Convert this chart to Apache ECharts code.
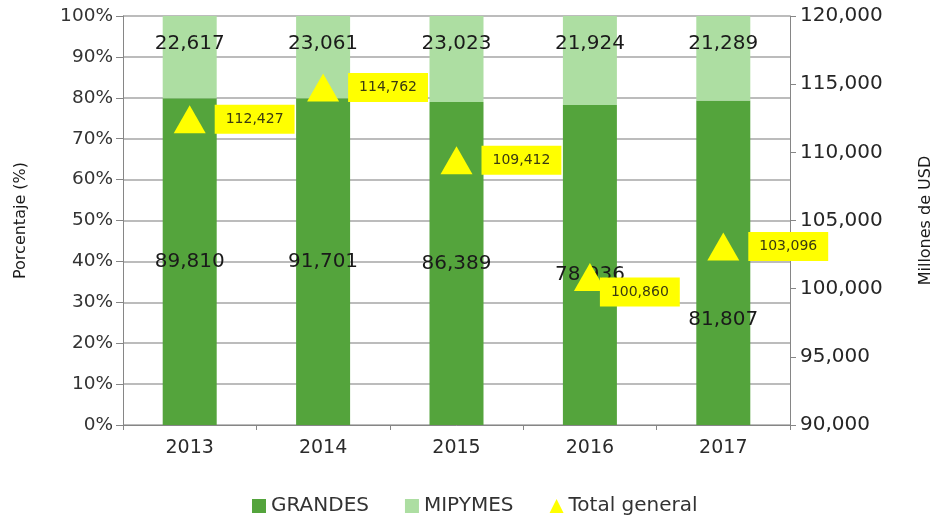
<!DOCTYPE html>
<html>
<head>
<meta charset="utf-8">
<script src="https://cdn.jsdelivr.net/npm/echarts@6/dist/echarts.min.js"></script>
<style>html,body{margin:0;padding:0;background:#fff}#c{width:935px;height:519px}</style>
</head>
<body>
<div id="c"></div>
<script>
var years = ['2013', '2014', '2015', '2016', '2017'];
var grandes = [89810, 91701, 86389, 78936, 81807];
var mipymes = [22617, 23061, 23023, 21924, 21289];
var totalGeneral = [112427, 114762, 109412, 100860, 103096];
var grandesLabelOffsets = [[0,0],[0,0],[0,0],[0,10],[0,57]];
var totalLabelOffsets = [[0,0],[0,0],[0,0],[-15,15],[0,0]];

var FONT = 'DejaVu Sans';
function fmt(v){ return Math.round(v).toString().replace(/\B(?=(\d{3})+(?!\d))/g, ','); }

var grandesPct = grandes.map(function(v,i){ return { value: v/(v+mipymes[i])*100, raw: v, label: { offset: grandesLabelOffsets[i] } }; });
var mipymesPct = mipymes.map(function(v,i){ return { value: v/(v+grandes[i])*100, raw: v }; });
var totalData = totalGeneral.map(function(v,i){ return { value: v, label: { offset: totalLabelOffsets[i] } }; });

var chart = echarts.init(document.getElementById('c'), null, {renderer:'canvas'});
chart.setOption({
  animation: false,
  backgroundColor: '#fff',
  textStyle: { fontFamily: FONT },
  grid: { left: 123, right: 145, top: 16, bottom: 94, outerBoundsMode: 'none', containLabel: false },
  legend: {
    top: 491, left: 247, itemGap: 36, itemWidth: 14, itemHeight: 14,
    textStyle: { fontFamily: FONT, fontSize: 20, color: '#333333' },
    data: [
      { name: 'GRANDES', icon: 'rect' },
      { name: 'MIPYMES', icon: 'rect' },
      { name: 'Total general', icon: 'triangle', itemStyle: { color: '#FFFF00' } }
    ]
  },
  xAxis: {
    type: 'category', data: years,
    axisLine: { lineStyle: { color: '#868686', width: 1 } },
    axisTick: { show: true, length: 5, lineStyle: { color: '#868686' } },
    axisLabel: { fontFamily: FONT, fontSize: 19, color: '#2b2b2b', margin: 14 }
  },
  yAxis: [
    {
      type: 'value', min: 0, max: 100, interval: 10,
      name: 'Porcentaje (%)', nameLocation: 'middle', nameRotate: 90, nameGap: 94,
      nameTextStyle: { fontFamily: FONT, fontSize: 16, color: '#1a1a1a' },
      axisLine: { show: true, lineStyle: { color: '#868686' } },
      axisTick: { show: true, length: 7, lineStyle: { color: '#868686' } },
      axisLabel: { fontFamily: FONT, fontSize: 18.5, color: '#333333', margin: 10, formatter: '{value}%' },
      splitLine: { show: true, lineStyle: { color: '#a6a6a6', width: 1.5 } }
    },
    {
      type: 'value', min: 90000, max: 120000, interval: 5000, position: 'right',
      name: 'Millones de USD', nameLocation: 'middle', nameRotate: 90, nameGap: 128,
      nameTextStyle: { fontFamily: FONT, fontSize: 16, color: '#1a1a1a' },
      axisLine: { show: true, lineStyle: { color: '#868686' } },
      axisTick: { show: true, length: 6, lineStyle: { color: '#868686' } },
      axisLabel: { fontFamily: FONT, fontSize: 20, color: '#262626', margin: 10, formatter: function(v){ return fmt(v); } },
      splitLine: { show: false }
    }
  ],
  series: [
    {
      name: 'GRANDES', type: 'bar', stack: 'p', barWidth: 54, data: grandesPct,
      itemStyle: { color: '#54A43C' },
      label: { show: true, position: 'inside', fontFamily: FONT, fontSize: 20, color: '#1a1a1a',
        formatter: function(p){ return fmt(p.data.raw); } }
    },
    {
      name: 'MIPYMES', type: 'bar', stack: 'p', barWidth: 54, data: mipymesPct,
      itemStyle: { color: '#ADDEA2' },
      label: { show: true, position: 'insideTop', distance: 18, fontFamily: FONT, fontSize: 20, color: '#1a1a1a',
        formatter: function(p){ return fmt(p.data.raw); } }
    },
    {
      name: 'Total general', type: 'scatter', yAxisIndex: 1, data: totalData,
      symbol: 'triangle', symbolSize: [32, 28], z: 5,
      itemStyle: { color: '#FFFF00', opacity: 1 },
      emphasis: { disabled: true },
      label: { show: true, position: 'right', distance: 9, fontFamily: FONT, fontSize: 14,
        color: '#3a3a10', backgroundColor: '#FFFF00', padding: [8, 11, 7, 11],
        formatter: function(p){ return fmt(p.value); } }
    }
  ]
});
</script>
</body>
</html>
